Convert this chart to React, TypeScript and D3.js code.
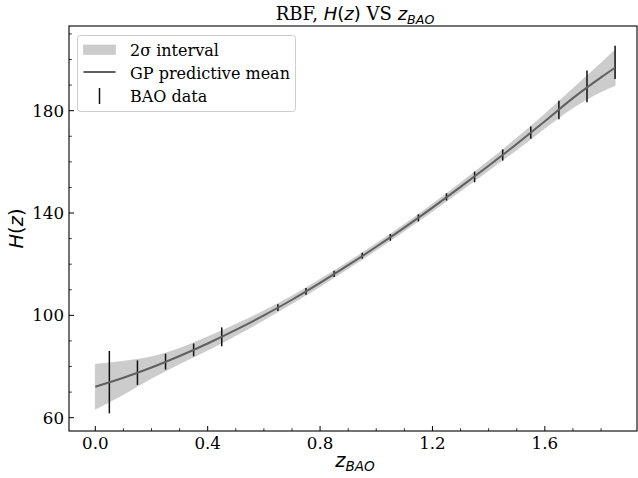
import { useMemo } from "react";
import * as d3 from "d3";

// GP prediction grid
const gridZ = [0, 0.1, 0.2, 0.3, 0.4, 0.5, 0.6, 0.7, 0.8, 0.9, 1.0, 1.1, 1.2, 1.3, 1.4, 1.5, 1.6, 1.7, 1.8, 1.85];
const gridMean = [72.1, 75.6, 79.6, 84.1, 89.0, 94.3, 100.0, 106.1, 112.7, 119.6, 126.8, 134.3, 142.1, 150.2, 158.5, 167.0, 175.9, 184.9, 193.0, 196.8];
// half width of the 2 sigma band
const grid2Sigma = [8.8, 6.5, 4.2, 3.0, 2.6, 2.2, 1.8, 1.5, 1.4, 1.3, 1.3, 1.3, 1.4, 1.6, 1.9, 2.3, 2.8, 3.8, 5.6, 7.0];

// BAO measurements
const baoZ = [0.05, 0.15, 0.25, 0.35, 0.45, 0.65, 0.75, 0.85, 0.95, 1.05, 1.15, 1.25, 1.35, 1.45, 1.55, 1.65, 1.75, 1.85];
const baoH = [73.9, 77.6, 81.9, 86.5, 91.6, 103.0, 109.4, 116.2, 123.3, 130.5, 138.1, 146.3, 154.1, 162.7, 171.4, 180.3, 189.5, 198.9];
const baoErr = [12.2, 4.8, 3.1, 2.5, 3.7, 1.3, 1.3, 1.2, 1.2, 1.3, 1.4, 1.4, 2.1, 2.2, 2.4, 3.6, 6.2, 6.5];

const xTicks = [0, 0.4, 0.8, 1.2, 1.6];
const yTicks = [60, 100, 140, 180];

const legendLabels = ["2σ interval", "GP predictive mean", "BAO data"];

const W = 638;
const H = 478;
const left = 69;
const right = 637;
const top = 26;
const bottom = 431;

const serif = "'DejaVu Serif', serif";
const sans = "'DejaVu Sans', sans-serif";
const fs = 16.67;
const labelFs = 19.4;

export default function App() {
  const x = useMemo(() => d3.scaleLinear().domain([-0.0936, 1.928]).range([left, right]), []);
  const y = useMemo(() => d3.scaleLinear().domain([54.8, 213.1]).range([bottom, top]), []);

  const grid = gridZ.map((z, i) => ({ z, m: gridMean[i], s: grid2Sigma[i] }));
  const area = d3
    .area<{ z: number; m: number; s: number }>()
    .x((d) => x(d.z))
    .y0((d) => y(d.m - d.s))
    .y1((d) => y(d.m + d.s))
    .curve(d3.curveMonotoneX);
  const line = d3
    .line<{ z: number; m: number; s: number }>()
    .x((d) => x(d.z))
    .y((d) => y(d.m))
    .curve(d3.curveMonotoneX);

  const xMinor = d3.range(0, 19).map((i) => i / 10).filter((v) => !xTicks.some((t) => Math.abs(t - v) < 1e-9));
  const yMinor = d3.range(60, 211, 10).filter((v) => !yTicks.includes(v));

  const midX = (left + 641) / 2;

  return (
    <svg width={W} height={H} style={{ position: "absolute", left: 0, top: 0, background: "#fff" }}>
      <rect width={W} height={H} fill="#fff" />
      <path d={area(grid) ?? ""} fill="#cccccc" stroke="#c4c4c4" strokeWidth={0.6} />
      {baoZ.map((z, i) => (
        <line
          key={i}
          x1={x(z)}
          x2={x(z)}
          y1={y(baoH[i] - baoErr[i])}
          y2={y(baoH[i] + baoErr[i])}
          stroke="#111"
          strokeWidth={1.5}
        />
      ))}
      <path d={line(grid) ?? ""} fill="none" stroke="#606060" strokeWidth={2} />

      {/* spines */}
      <rect x={left} y={top} width={right - left} height={bottom - top} fill="none" stroke="#000" strokeWidth={1.1} />

      {/* x ticks */}
      {xTicks.map((t) => (
        <g key={t}>
          <line x1={x(t)} x2={x(t)} y1={bottom} y2={bottom - 5} stroke="#000" strokeWidth={1} />
          <text x={x(t)} y={448.5} textAnchor="middle" fontFamily={serif} fontSize={fs}>
            {t.toFixed(1)}
          </text>
        </g>
      ))}
      {xMinor.map((t) => (
        <line key={t} x1={x(t)} x2={x(t)} y1={bottom} y2={bottom - 2.8} stroke="#000" strokeWidth={0.8} />
      ))}

      {/* y ticks */}
      {yTicks.map((t) => (
        <g key={t}>
          <line x1={left} x2={left + 5} y1={y(t)} y2={y(t)} stroke="#000" strokeWidth={1} />
          <text x={left - 5} y={y(t) + 6} textAnchor="end" fontFamily={serif} fontSize={fs}>
            {t}
          </text>
        </g>
      ))}
      {yMinor.map((t) => (
        <line key={t} x1={left} x2={left + 2.8} y1={y(t)} y2={y(t)} stroke="#000" strokeWidth={0.8} />
      ))}

      {/* title */}
      <text x={midX} y={19.5} textAnchor="middle" fontSize={labelFs * 0.93}>
        <tspan fontFamily={serif}>RBF, </tspan>
        <tspan fontFamily={sans} fontStyle="italic">H</tspan>
        <tspan fontFamily={sans}>(</tspan>
        <tspan fontFamily={sans} fontStyle="italic">z</tspan>
        <tspan fontFamily={sans}>)</tspan>
        <tspan fontFamily={serif}> VS </tspan>
        <tspan fontFamily={sans} fontStyle="italic">z</tspan>
        <tspan fontFamily={sans} fontStyle="italic" fontSize={labelFs * 0.93 * 0.7} dy={4}>BAO</tspan>
      </text>

      {/* axis labels */}
      <text x={midX} y={467} textAnchor="middle" fontSize={labelFs}>
        <tspan fontFamily={sans} fontStyle="italic">z</tspan>
        <tspan fontFamily={sans} fontStyle="italic" fontSize={labelFs * 0.7} dy={4}>BAO</tspan>
      </text>
      <text
        transform={`translate(23, ${(top + bottom) / 2}) rotate(-90)`}
        textAnchor="middle"
        fontSize={labelFs}
        fontFamily={sans}
      >
        <tspan fontStyle="italic">H</tspan>
        <tspan>(</tspan>
        <tspan fontStyle="italic">z</tspan>
        <tspan>)</tspan>
      </text>

      {/* legend */}
      <g>
        <rect x={77.5} y={35.5} width={218} height={76} rx={3} fill="#fff" fillOpacity={0.8} stroke="#cccccc" strokeWidth={1} />
        <rect x={83.5} y={45} width={32} height={9.5} fill="#cccccc" stroke="#c4c4c4" strokeWidth={0.6} />
        <line x1={83.5} x2={115.5} y1={72} y2={72} stroke="#606060" strokeWidth={2} />
        <line x1={99.5} x2={99.5} y1={88} y2={104} stroke="#111" strokeWidth={1.5} />
        {legendLabels.map((t, i) => (
          <text key={t} x={130} y={55.5 + i * 23.3} fontFamily={serif} fontSize={16}>
            {t}
          </text>
        ))}
      </g>
    </svg>
  );
}
